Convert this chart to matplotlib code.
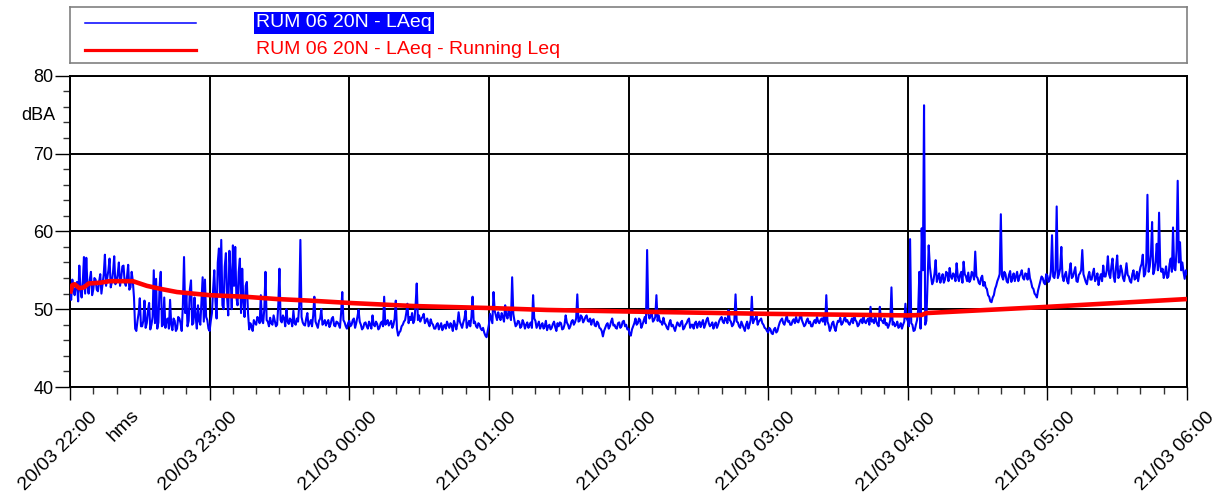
import numpy as np
import matplotlib
matplotlib.use('Agg')
import matplotlib.pyplot as plt
from matplotlib.ticker import MultipleLocator
from matplotlib.transforms import ScaledTranslation

plt.rcParams['font.family'] = ['Liberation Sans', 'DejaVu Sans']

# ---------------- data ----------------
hour_labels = ['20/03 22:00', '20/03 23:00', '21/03 00:00', '21/03 01:00',
               '21/03 02:00', '21/03 03:00', '21/03 04:00', '21/03 05:00',
               '21/03 06:00']
hour_minutes = [0, 60, 120, 180, 240, 300, 360, 420, 480]
y_ticks = [40, 50, 60, 70, 80]

series_label = 'RUM 06 20N - LAeq'
running_label = 'RUM 06 20N - LAeq - Running Leq'

# LAeq at each whole minute
laeq_22 = [52.3, 53.8, 51.8, 53.5, 55.6, 51.5, 56.7, 56.6, 52.0, 54.8,
           52.5, 53.8, 52.3, 54.5, 53.2, 57.0, 54.0, 56.5, 53.5, 56.8,
           53.6, 56.0, 54.0, 55.6, 53.0, 55.7, 52.8, 53.6, 47.5, 48.5,
           51.4, 47.8, 51.1, 48.2, 50.8, 48.0, 55.0, 53.9, 48.3, 54.8,
           48.0, 47.6, 48.8, 51.2, 47.3, 48.5, 47.5, 48.8, 47.2, 56.7,
           52.0, 48.5, 53.7, 48.2, 49.0, 50.5, 48.0, 54.1, 53.8, 48.6]
laeq_23 = [47.2, 49.5, 55.0, 48.8, 57.8, 58.9, 50.0, 57.2, 49.2, 54.5,
           58.2, 58.0, 50.5, 56.5, 55.2, 49.0, 53.5, 47.4, 47.8, 48.6,
           48.0, 48.8, 51.8, 48.2, 54.8, 48.4, 48.9, 48.0, 48.5, 48.0,
           55.2, 48.3, 48.8, 50.0, 48.1, 48.6, 49.8, 48.0, 48.4, 58.9,
           48.3, 47.9, 49.5, 48.2, 47.8, 51.6, 48.0, 48.5, 50.0, 48.2,
           47.9, 48.6, 48.1, 49.0, 47.8, 48.3, 47.6, 52.2, 48.3, 47.5]
laeq_00 = [48.5, 48.0, 48.8, 48.2, 49.9, 48.0, 47.6, 48.3, 47.5, 48.0,
           49.2, 47.8, 48.1, 47.6, 48.4, 51.6, 48.2, 47.9, 48.5, 48.0,
           51.1, 46.6, 47.2, 48.0, 48.6, 50.7, 49.0, 49.5, 48.6, 53.3,
           49.2, 48.8, 49.4, 48.5, 48.2, 48.7, 48.0, 47.5, 48.2, 47.8,
           47.3, 48.0, 48.4, 47.6, 47.9, 48.5, 47.4, 49.6, 48.0, 48.3,
           49.8, 48.0, 47.8, 51.6, 48.4, 47.6, 48.0, 47.3, 47.0, 46.4]
laeq_01 = [48.0, 48.8, 52.2, 49.2, 49.6, 48.6, 49.0, 50.5, 48.8, 49.3,
           54.1, 48.5, 48.0, 48.4, 47.8, 48.2, 48.0, 47.6, 48.3, 51.8,
           48.5, 48.0, 47.5, 48.2, 47.8, 47.3, 48.0, 47.6, 48.4, 47.2,
           47.8, 48.2, 47.5, 49.2, 48.0, 47.8, 48.6, 48.3, 51.9, 48.5,
           49.0, 48.6, 49.2, 48.4, 48.0, 48.7, 47.8, 48.2, 47.5, 46.5,
           47.6, 48.2, 47.8, 48.8, 48.0, 47.5, 48.3, 47.8, 48.5, 48.0]
laeq_02 = [47.5, 46.6, 47.8, 48.8, 48.2, 48.6, 48.0, 49.0, 57.6, 48.8,
           49.4, 48.6, 51.8, 49.2, 48.4, 48.9, 48.0, 47.4, 48.6, 48.0,
           47.2, 48.3, 47.8, 48.5, 47.6, 48.2, 48.8, 48.0, 47.5, 48.4,
           48.1, 47.7, 48.6, 48.0, 48.9, 47.8, 48.3, 48.0, 47.6, 48.5,
           49.0, 48.2, 48.7, 49.9, 48.4, 48.0, 51.9, 48.3, 47.6, 48.0,
           47.2, 48.4, 48.0, 51.6, 48.6, 49.2, 48.4, 48.8, 48.0, 47.5]
laeq_03 = [47.0, 47.4, 46.8, 47.6, 47.2, 48.3, 48.8, 48.0, 49.2, 48.5,
           48.0, 48.7, 49.0, 48.3, 49.5, 48.2, 48.0, 48.8, 48.4, 47.8,
           48.6, 49.0, 48.2, 48.8, 49.2, 51.8, 48.0, 47.6, 48.4, 47.2,
           48.5, 48.9, 48.2, 49.1, 48.6, 48.0, 48.8, 49.3, 48.4, 48.0,
           48.7, 49.0, 48.2, 48.8, 50.3, 48.6, 49.2, 48.0, 50.3, 48.5,
           48.8, 48.2, 48.0, 52.8, 48.3, 48.0, 47.6, 48.2, 48.0, 50.7]
laeq_04 = [48.5, 59.0, 48.0, 47.3, 48.6, 54.8, 60.4, 76.2, 48.5, 58.2,
           54.2, 53.6, 56.3, 54.0, 53.4, 54.5, 53.8, 54.6, 55.3, 53.9,
           54.4, 55.9, 53.6, 54.8, 56.1, 54.2, 54.7, 53.8, 54.5, 57.4,
           54.0, 53.2, 54.3, 53.5, 52.6, 51.6, 50.9, 51.8, 53.0, 54.0,
           62.2, 53.8, 54.5, 53.4, 54.9, 54.0, 53.6, 54.8, 54.2, 55.0,
           53.8, 54.5, 55.2, 53.5, 52.6, 51.8, 52.4, 53.6, 54.0, 53.2]
laeq_05 = [54.3, 53.8, 59.5, 54.0, 63.2, 54.5, 58.0, 53.6, 54.8, 53.3,
           55.9, 54.2, 55.4, 53.5, 54.6, 57.6, 54.0, 53.2, 54.8, 53.8,
           55.2, 54.0, 53.1, 54.5, 55.6, 54.2, 56.8, 54.0, 56.5, 53.5,
           56.9, 54.3, 55.0, 53.6, 55.9, 54.2, 53.4, 55.0, 54.0, 53.6,
           55.4, 57.0, 54.5, 64.7, 55.5, 61.2, 55.0, 58.4, 62.4, 54.8,
           54.0, 55.5, 54.2, 56.5, 60.5, 55.0, 66.5, 58.6, 56.0, 53.9]
laeq_06 = [54.5]

# LAeq at each half minute (minute + 0.5)
half_22 = [51.2, 52.5, 53.0, 51.0, 52.5, 53.5, 52.0, 53.0, 53.8, 51.8,
           54.0, 52.5, 53.5, 52.0, 54.5, 53.0, 55.0, 52.8, 54.8, 53.2,
           54.5, 53.0, 55.5, 53.4, 54.2, 52.5, 54.8, 51.5, 47.2, 49.5,
           47.8, 48.5, 47.6, 49.8, 47.4, 49.0, 48.2, 47.5, 53.0, 47.8,
           51.5, 48.6, 47.5, 48.0, 48.8, 47.2, 49.0, 48.2, 50.5, 49.5,
           47.8, 52.5, 48.0, 51.5, 47.5, 48.5, 51.0, 48.4, 49.0, 47.5]
half_23 = [48.5, 52.5, 51.0, 56.0, 52.0, 50.5, 55.5, 51.5, 57.5, 50.0,
           53.0, 51.5, 54.8, 49.5, 51.0, 53.0, 49.5, 48.2, 47.2, 48.2,
           49.0, 48.2, 48.5, 50.0, 48.6, 47.8, 48.2, 49.2, 47.8, 50.5,
           48.6, 49.2, 47.8, 48.4, 48.8, 47.8, 48.2, 48.8, 50.5, 49.0,
           48.0, 48.8, 47.8, 48.6, 49.2, 48.4, 47.6, 48.8, 48.0, 48.6,
           48.3, 47.7, 48.8, 47.9, 48.4, 48.0, 49.5, 48.6, 47.8, 48.2]
half_00 = [47.8, 48.6, 47.6, 49.0, 48.4, 47.4, 48.2, 47.8, 48.4, 47.5,
           48.0, 48.4, 47.4, 48.2, 47.8, 48.0, 48.6, 48.2, 47.6, 48.8,
           47.5, 47.0, 47.8, 48.4, 49.5, 48.2, 48.6, 48.2, 50.5, 48.6,
           48.4, 49.0, 48.2, 48.8, 47.8, 48.2, 47.5, 48.0, 47.4, 48.2,
           47.8, 47.5, 48.0, 48.2, 47.2, 48.0, 48.2, 48.4, 47.6, 48.8,
           47.6, 48.5, 49.0, 48.2, 47.8, 48.2, 47.5, 47.6, 46.6, 47.2]
half_01 = [49.4, 48.2, 49.8, 48.6, 49.0, 49.5, 48.4, 49.2, 49.8, 48.6,
           49.4, 47.8, 48.5, 47.6, 48.6, 47.5, 48.3, 48.0, 47.6, 48.8,
           47.6, 48.4, 47.9, 47.5, 48.5, 47.8, 47.4, 48.1, 47.7, 48.2,
           48.3, 47.4, 48.0, 48.3, 47.5, 48.4, 48.0, 48.8, 48.4, 49.2,
           48.3, 49.0, 48.5, 48.8, 48.6, 47.9, 48.4, 47.6, 47.2, 47.2,
           48.0, 47.5, 48.4, 47.9, 47.6, 48.2, 47.6, 48.4, 47.8, 47.4]
half_02 = [46.8, 47.4, 48.2, 48.0, 48.8, 47.6, 48.5, 48.2, 49.5, 49.2,
           48.4, 49.0, 48.5, 48.4, 48.0, 48.2, 47.6, 48.2, 47.8, 47.6,
           47.8, 48.0, 48.3, 47.4, 48.0, 48.6, 47.6, 48.0, 48.2, 47.6,
           48.4, 48.2, 47.6, 48.6, 48.2, 48.0, 47.5, 48.3, 48.0, 48.8,
           48.4, 48.9, 48.2, 48.6, 47.8, 48.6, 48.4, 47.8, 48.4, 47.6,
           48.0, 47.5, 48.6, 48.2, 48.8, 48.0, 48.6, 48.2, 47.6, 47.2]
half_03 = [47.6, 46.9, 47.4, 47.0, 47.8, 48.6, 48.2, 48.6, 48.4, 48.0,
           48.5, 48.2, 48.4, 48.8, 48.6, 47.8, 48.5, 48.2, 47.8, 48.3,
           48.2, 48.4, 48.6, 48.4, 48.0, 48.4, 47.2, 48.2, 47.6, 48.0,
           48.4, 48.0, 48.6, 48.4, 48.2, 48.4, 48.2, 48.6, 47.8, 48.5,
           48.2, 48.4, 48.6, 48.0, 48.4, 48.2, 48.4, 47.8, 48.6, 48.2,
           48.0, 47.6, 48.6, 48.0, 47.8, 48.4, 47.8, 47.5, 48.4, 48.8]
half_04 = [47.8, 48.2, 47.2, 48.0, 50.0, 47.5, 55.0, 48.0, 53.5, 55.5,
           53.2, 54.6, 53.5, 54.6, 54.0, 53.4, 54.8, 53.6, 54.2, 54.6,
           53.6, 54.2, 54.4, 53.4, 54.5, 53.6, 53.5, 54.8, 53.8, 54.2,
           53.4, 54.0, 53.0, 52.8, 51.8, 51.0, 51.5, 52.6, 53.6, 54.5,
           54.2, 54.8, 53.6, 54.4, 53.5, 54.6, 54.2, 53.6, 54.5, 54.0,
           54.6, 53.8, 54.0, 52.8, 52.0, 51.5, 53.0, 54.2, 53.4, 54.5]
half_05 = [53.5, 54.8, 54.2, 55.0, 54.0, 55.2, 54.2, 54.4, 53.6, 54.8,
           54.0, 54.8, 53.6, 54.4, 55.0, 54.5, 53.5, 54.2, 53.8, 54.6,
           53.6, 54.6, 54.0, 53.6, 54.2, 55.0, 54.5, 55.5, 54.2, 55.4,
           54.0, 55.6, 54.0, 54.6, 54.4, 53.6, 54.5, 53.8, 54.8, 54.6,
           55.8, 54.2, 56.0, 54.8, 57.0, 54.5, 56.2, 55.0, 55.5, 55.2,
           54.6, 54.0, 55.8, 54.8, 55.2, 57.5, 56.0, 55.0, 54.8, 55.0]

# Running Leq
running_min = [0, 1, 2, 4, 6, 8, 13, 17, 22, 27, 30, 33, 39, 46, 53, 60,
               75, 89, 103, 120, 148, 180, 205, 240, 300, 360, 366, 368,
               420, 480]
running_leq = [52.0, 53.1, 53.2, 52.7, 52.8, 53.3, 53.4, 53.6, 53.6, 53.6,
               53.3, 53.0, 52.6, 52.2, 52.0, 51.8, 51.6, 51.3, 51.1, 50.8,
               50.4, 50.15, 49.9, 49.7, 49.4, 49.2, 49.25, 49.5, 50.3, 51.3]

whole = np.concatenate([laeq_22, laeq_23, laeq_00, laeq_01, laeq_02,
                        laeq_03, laeq_04, laeq_05])
half = np.concatenate([half_22, half_23, half_00, half_01, half_02,
                       half_03, half_04, half_05])
laeq = np.empty(2 * len(whole) + 1)
laeq[0:-1:2] = whole
laeq[1:-1:2] = half
laeq[-1] = laeq_06[0]
minutes = np.arange(len(laeq)) * 0.5

# ---------------- figure ----------------
W, H = 1220, 496
fig = plt.figure(figsize=(W / 100, H / 100), dpi=100)
ax = fig.add_axes([70 / W, 109 / H, 1117 / W, 311.3 / H])

BLUE = '#0000ff'
RED = '#ff0000'

ax.plot(minutes, laeq, color=BLUE, lw=1.5, zorder=3)
ax.plot(running_min, running_leq, color=RED, lw=3.3, zorder=4,
        solid_capstyle='butt')

ax.set_xlim(0, 480)
ax.set_ylim(40, 80)
ax.set_xticks(hour_minutes)
ax.set_xticklabels(hour_labels)
ax.xaxis.set_minor_locator(MultipleLocator(10))
ax.set_yticks(y_ticks)
ax.set_yticklabels([str(v) for v in y_ticks])
ax.yaxis.set_minor_locator(MultipleLocator(2))

ax.grid(True, which='major', color='black', lw=1.4)
ax.set_axisbelow(True)

for s in ax.spines.values():
    s.set_color('black')
    s.set_linewidth(1.4)

ax.tick_params(axis='y', which='major', direction='out', length=10.5,
               width=1, pad=1.5, labelsize=13)
ax.tick_params(axis='y', which='minor', direction='out', length=5,
               width=1, color='#333333')
ax.tick_params(axis='x', which='major', direction='out', length=9.4,
               width=1, pad=11, labelsize=14)
ax.tick_params(axis='x', which='minor', direction='out', length=5,
               width=1, color='#333333')

offset = ScaledTranslation(0.25, 0, fig.dpi_scale_trans)
for lab in ax.get_xticklabels():
    lab.set_rotation(45)
    lab.set_ha('right')
    lab.set_va('center')
    lab.set_rotation_mode('anchor')
    lab.set_transform(lab.get_transform() + offset)

fig.text(55 / W, 1 - 115 / H, 'dBA', ha='right', va='center', fontsize=13)
fig.text(123.5 / W, 1 - 425.5 / H, 'hms', ha='center', va='center',
         fontsize=14, rotation=45)

# ---------------- legend box ----------------
lg = fig.add_axes([70 / W, 1 - 63 / H, 1117 / W, 56 / H])
lg.set_xlim(0, 1117)
lg.set_ylim(56, 0)
lg.set_xticks([])
lg.set_yticks([])
for s in lg.spines.values():
    s.set_color('#808080')
    s.set_linewidth(1.2)
lg.plot([15, 126], [16, 16], color=BLUE, lw=1.1)
lg.plot([15, 126], [43, 43], color=RED, lw=2.3)
lg.text(186, 16, series_label, color='white', fontsize=14, va='center',
        ha='left', bbox=dict(facecolor=BLUE, edgecolor='none', pad=1.5))
lg.text(186, 43, running_label, color=RED, fontsize=14, va='center',
        ha='left')

fig.savefig('out.png', dpi=100)
